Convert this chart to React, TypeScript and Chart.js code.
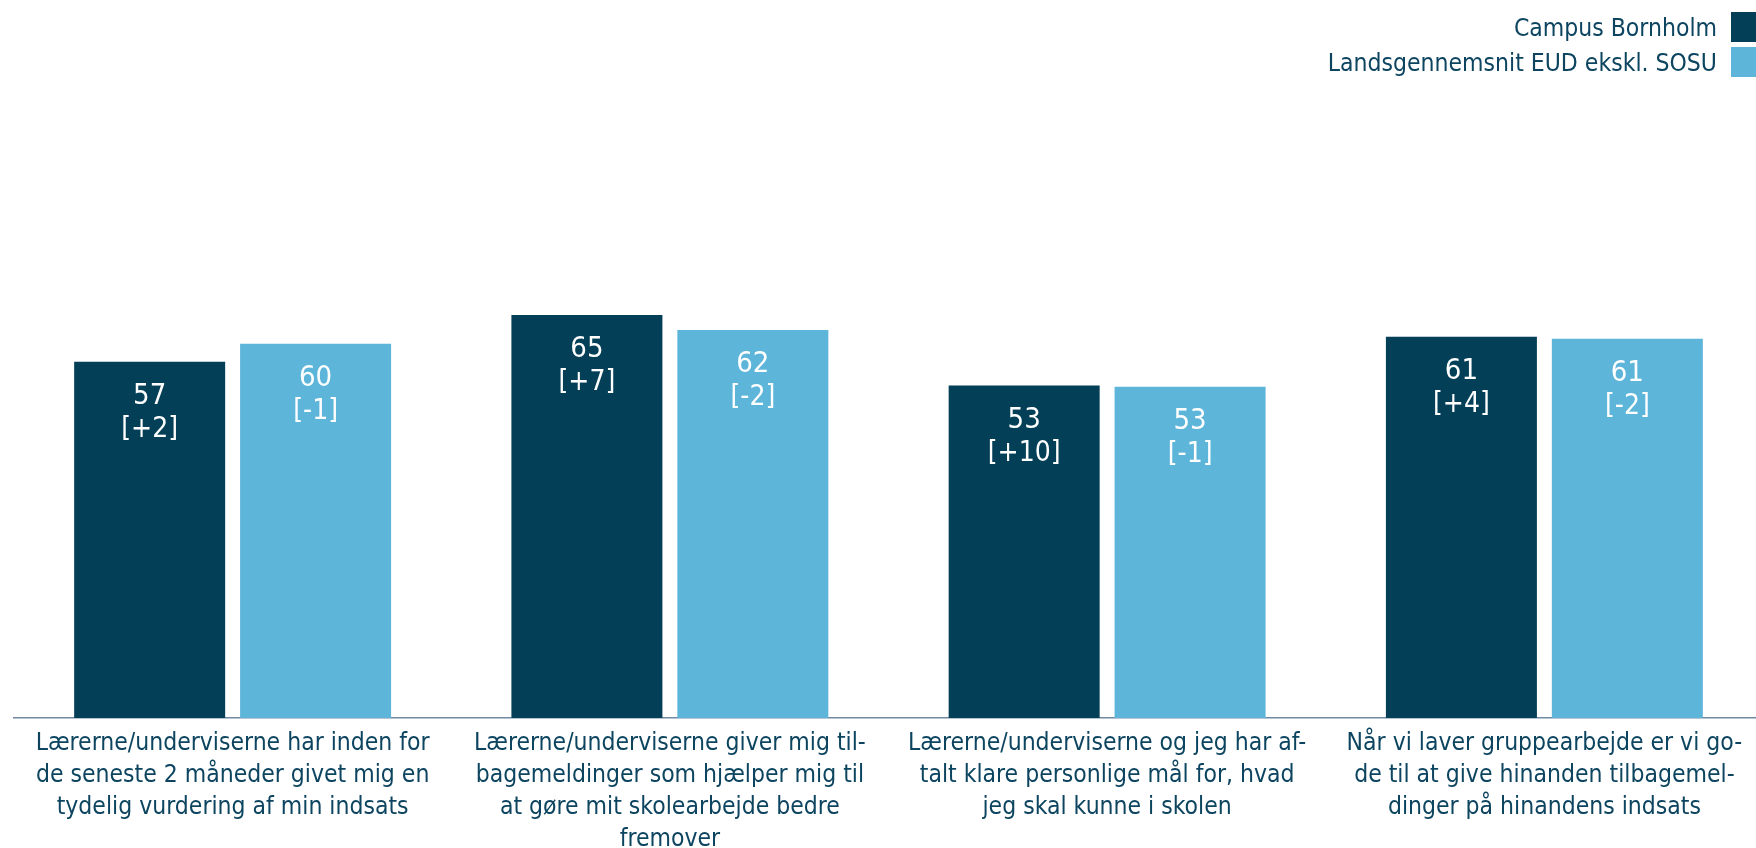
import React, { useEffect, useRef } from "react";
import { Chart, registerables } from "chart.js";

Chart.register(...registerables);

const categories: string[][] = [
  ["Lærerne/underviserne har inden for", "de seneste 2 måneder givet mig en", "tydelig vurdering af min indsats"],
  ["Lærerne/underviserne giver mig til-", "bagemeldinger som hjælper mig til", "at gøre mit skolearbejde bedre", "fremover"],
  ["Lærerne/underviserne og jeg har af-", "talt klare personlige mål for, hvad", "jeg skal kunne i skolen"],
  ["Når vi laver gruppearbejde er vi go-", "de til at give hinanden tilbagemel-", "dinger på hinandens indsats"],
];

const seriesNames = ["Campus Bornholm", "Landsgennemsnit EUD ekskl. SOSU"];
const campusValues = [57, 64.5, 53.2, 61];
const nationalValues = [59.9, 62.1, 53.0, 60.7];
const campusDiffs = ["[+2]", "[+7]", "[+10]", "[+4]"];
const nationalDiffs = ["[-1]", "[-2]", "[-1]", "[-2]"];

const DARK = "#033f57";
const LIGHT = "#5eb5da";
const TEXT = "#0d4560";
const FONT = "'DejaVu Sans Condensed', 'DejaVu Sans', sans-serif";

const diffs = [campusDiffs, nationalDiffs];

const valueLabelPlugin = {
  id: "valueLabels",
  afterDatasetsDraw(chart: any) {
    const ctx = chart.ctx;
    ctx.save();
    ctx.fillStyle = "#ffffff";
    ctx.textAlign = "center";
    ctx.textBaseline = "alphabetic";
    chart.data.datasets.forEach((ds: any, di: number) => {
      const meta = chart.getDatasetMeta(di);
      meta.data.forEach((bar: any, i: number) => {
        const v = Math.round(ds.data[i]);
        ctx.font = `29px ${FONT}`;
        ctx.fillText(String(v), bar.x, bar.y + 42);
        ctx.font = `28px ${FONT}`;
        ctx.fillText(diffs[di][i], bar.x, bar.y + 75);
      });
    });
    ctx.restore();
  },
};

const legendPlugin = {
  id: "customLegend",
  afterDraw(chart: any) {
    const ctx = chart.ctx;
    ctx.save();
    ctx.font = `24.5px ${FONT}`;
    ctx.textAlign = "right";
    ctx.textBaseline = "alphabetic";
    chart.data.datasets.forEach((ds: any, di: number) => {
      const top = 12 + di * 35;
      ctx.fillStyle = ds.backgroundColor;
      ctx.fillRect(1731, top, 30, 30);
      ctx.fillStyle = TEXT;
      ctx.fillText(ds.label, 1717, top + 24);
    });
    ctx.restore();
  },
};

export default function App() {
  const ref = useRef<HTMLCanvasElement | null>(null);
  useEffect(() => {
    document.body.style.margin = "0";
    document.body.style.overflow = "hidden";
    const canvas = ref.current!;
    const chart = new Chart(canvas, {
      type: "bar",
      data: {
        labels: categories as any,
        datasets: [
          { label: seriesNames[0], data: campusValues, backgroundColor: DARK, categoryPercentage: 0.759, barPercentage: 0.91 },
          { label: seriesNames[1], data: nationalValues, backgroundColor: LIGHT, categoryPercentage: 0.759, barPercentage: 0.91 },
        ],
      },
      options: {
        responsive: false,
        animation: false,
        devicePixelRatio: 1,
        layout: { padding: { top: 93, left: 14, right: 0, bottom: 0 } },
        plugins: { legend: { display: false }, tooltip: { enabled: false } },
        scales: {
          x: {
            grid: { display: false, drawTicks: false },
            border: { display: true, color: "#7089a3", width: 1.5 },
            ticks: {
              color: TEXT,
              font: { family: FONT, size: 24.5, lineHeight: 32 / 24.5 },
              padding: 10,
              maxRotation: 0,
              autoSkip: false,
            },
            afterFit(scale: any) {
              scale.height = 130;
            },
          },
          y: { display: false, min: 0, max: 100 },
        },
      },
      plugins: [valueLabelPlugin, legendPlugin],
    });
    return () => chart.destroy();
  }, []);
  return (
    <div style={{ position: "fixed", left: 0, top: 0, width: 1756, height: 848, overflow: "hidden", background: "#fff" }}>
      <canvas ref={ref} width={1763} height={848} style={{ width: 1763, height: 848, display: "block" }} />
    </div>
  );
}
